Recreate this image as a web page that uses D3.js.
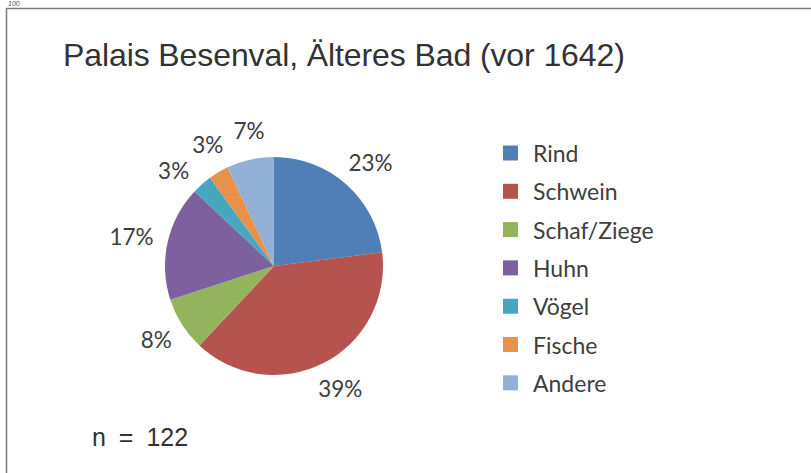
<!DOCTYPE html>
<html>
<head>
<meta charset="utf-8">
<script src="https://cdn.jsdelivr.net/npm/d3@7"></script>
<style>
  body { margin: 0; background: #fff; }
  svg { display: block; }
</style>
</head>
<body>
<div class="pieChart"></div>
<script>
(function(){
  var categories = ["Rind", "Schwein", "Schaf/Ziege", "Huhn", "Vögel", "Fische", "Andere"];
  var shares = [23, 39, 8, 17, 3, 3, 7];
  var colors = ["#4f7fb6", "#b5534f", "#92b45c", "#7c619e", "#46a7bf", "#e8914b", "#93b1d6"];
  var title = "Palais Besenval, Älteres Bad (vor 1642)";
  var note = "n = 122";

  var W = 811, H = 473;
  var cx = 274, cy = 266, r = 109;

  var svg = d3.select('.pieChart').append('svg').attr('width', W).attr('height', H);

  // frame (only top and left edges visible in the scan)
  svg.append('path')
    .attr('d', 'M6.5,' + H + 'V8.5H' + W)
    .attr('fill', 'none')
    .attr('stroke', '#808080')
    .attr('stroke-width', 1.6);

  svg.append('text')
    .attr('x', 8).attr('y', 6)
    .style('font', 'italic 7px "Liberation Sans", Arial, sans-serif')
    .style('fill', '#555')
    .text('100');

  svg.append('text')
    .attr('x', 63).attr('y', 66)
    .style('font', '32px "Liberation Sans", Arial, sans-serif')
    .style('letter-spacing', '-0.1px')
    .style('fill', '#333')
    .text(title);

  svg.append('text')
    .attr('x', 92).attr('y', 446)
    .style('font', '25px "Liberation Sans", Arial, sans-serif')
    .style('word-spacing', '6px')
    .style('fill', '#333')
    .text(note);

  var data = categories.map(function(c, i){ return {name: c, value: shares[i], color: colors[i]}; });

  var pie = d3.pie().sort(null).value(function(d){ return d.value; });
  var arc = d3.arc().innerRadius(0).outerRadius(r);
  var arcs = pie(data);

  var g = svg.append('g').attr('transform', 'translate(' + cx + ',' + cy + ')');

  g.selectAll('path.slice').data(arcs).enter()
    .append('path')
    .attr('class', 'slice')
    .attr('d', arc)
    .style('fill', function(d){ return d.data.color; })
    .style('stroke', 'none');

  // outside-end labels
  var labelR = 124;
  var labels = g.selectAll('text.lbl').data(arcs).enter()
    .append('text')
    .attr('class', 'lbl')
    .style('font', '22.5px Lato, "Open Sans", sans-serif')
    .style('fill', '#404040')
    .attr('text-anchor', 'middle')
    .attr('dominant-baseline', 'central')
    .text(function(d){ return d.data.value + '%'; });

  var boxes = [];
  labels.each(function(d){
    var bb = this.getBBox();
    boxes.push({a: (d.startAngle + d.endAngle) / 2, w: bb.width, h: bb.height});
  });

  function place(b){
    b.x = Math.sin(b.a) * labelR + Math.sin(b.a) * b.w / 2;
    b.y = -Math.cos(b.a) * labelR - Math.cos(b.a) * b.h / 2;
  }
  boxes.forEach(place);

  // push neighbouring labels apart along the circle until they no longer overlap
  for (var it = 0; it < 300; it++) {
    var moved = false;
    for (var i = 0; i < boxes.length - 1; i++) {
      var p = boxes[i], q = boxes[i + 1];
      var ox = (p.w + q.w) / 2 + 10 - Math.abs(p.x - q.x);
      var oy = (p.h + q.h) / 2 - 2 - Math.abs(p.y - q.y);
      if (ox > 0 && oy > 0) {
        p.a -= 0.01; q.a += 0.01;
        place(p); place(q);
        moved = true;
      }
    }
    if (!moved) break;
  }

  labels.each(function(d, i){
    d3.select(this).attr('x', boxes[i].x).attr('y', boxes[i].y);
  });

  // legend
  var legend = svg.append('g').attr('transform', 'translate(503,153)');
  var rows = legend.selectAll('g').data(data).enter()
    .append('g')
    .attr('transform', function(d, i){ return 'translate(0,' + (i * 38.3) + ')'; });

  rows.append('rect')
    .attr('x', 0).attr('y', -7.5)
    .attr('width', 15).attr('height', 15)
    .style('fill', function(d){ return d.color; });

  rows.append('text')
    .attr('x', 30).attr('y', 0)
    .attr('dominant-baseline', 'central')
    .style('font', '23px Lato, "Open Sans", sans-serif')
    .style('fill', '#404040')
    .text(function(d){ return d.name; });
})();
</script>
</body>
</html>
